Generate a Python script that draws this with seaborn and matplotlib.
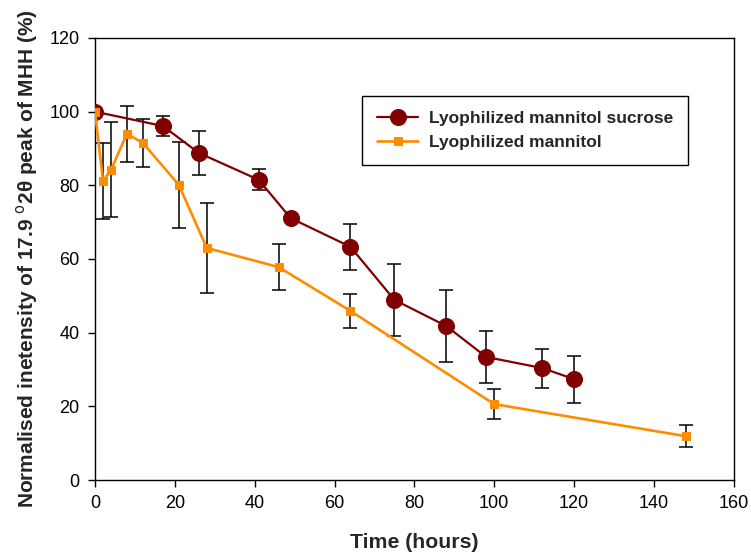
import matplotlib
matplotlib.use("Agg")
import matplotlib.pyplot as plt
import seaborn as sns
import pandas as pd

# Data
time_suc = [0, 17, 26, 41, 49, 64, 75, 88, 98, 112, 120]
val_suc = [100, 96.1, 88.8, 81.5, 71.1, 63.3, 48.9, 41.8, 33.4, 30.4, 27.4]
err_suc = [0, 2.6, 5.9, 2.8, 0, 6.3, 9.7, 9.8, 7.1, 5.3, 6.4]

time_man = [0, 2, 4, 8, 12, 21, 28, 46, 64, 100, 148]
val_man = [100, 81.2, 84.2, 94.0, 91.5, 80.1, 63.0, 57.8, 45.9, 20.6, 11.9]
err_man = [0, 10.3, 12.9, 7.6, 6.5, 11.7, 12.1, 6.2, 4.5, 4.1, 2.95]

label_suc = "Lyophilized mannitol sucrose"
label_man = "Lyophilized mannitol"

x_ticks = [0, 20, 40, 60, 80, 100, 120, 140, 160]
y_ticks = [0, 20, 40, 60, 80, 100, 120]

sns.set_style("ticks")
plt.rcParams['font.family'] = ['Liberation Sans', 'DejaVu Sans']

df_suc = pd.DataFrame({"t": time_suc, "v": val_suc})
df_man = pd.DataFrame({"t": time_man, "v": val_man})

fig = plt.figure(figsize=(7.51, 5.52), dpi=100)
ax = fig.add_axes([0.1265, 0.1304, 0.8505, 0.8008])

c_suc = "#800000"
c_man = "#FF8C00"

ax.errorbar(time_suc, val_suc, yerr=err_suc, fmt="none", ecolor="black",
            elinewidth=1.1, capsize=5, capthick=1.1, zorder=2)
ax.errorbar(time_man, val_man, yerr=err_man, fmt="none", ecolor="black",
            elinewidth=1.1, capsize=5, capthick=1.1, zorder=2)

sns.lineplot(data=df_suc, x="t", y="v", ax=ax, color=c_suc, marker="o",
             markersize=11.5, markeredgecolor=c_suc, markerfacecolor=c_suc,
             linewidth=1.6, label=label_suc, zorder=3)
sns.lineplot(data=df_man, x="t", y="v", ax=ax, color=c_man, marker="s",
             markersize=5.5, markeredgecolor=c_man, markerfacecolor=c_man,
             linewidth=1.9, label=label_man, zorder=4)

ax.set_xlim(0, 160)
ax.set_ylim(0, 120)
ax.set_xticks(x_ticks)
ax.set_yticks(y_ticks)
ax.tick_params(axis="both", direction="out", length=5, width=1, labelsize=13,
               color="black", labelcolor="black", pad=6)
for s in ax.spines.values():
    s.set_visible(True)
    s.set_color("black")
    s.set_linewidth(1)

ax.set_xlabel("Time (hours)", fontsize=15.3, fontweight="bold", labelpad=15)
ax.set_ylabel("Normalised inetensity of 17.9 $^{\\mathrm{o}}$2θ peak of MHH (%)",
              fontsize=15, fontweight="bold", labelpad=7)

leg = ax.legend(loc="upper left", bbox_to_anchor=(0.418, 0.869), frameon=True,
                fancybox=False, edgecolor="black", framealpha=1,
                prop={"weight": "bold", "size": 12.5}, borderpad=0.85,
                borderaxespad=0, handlelength=2.4, handletextpad=0.6,
                labelspacing=0.55)
leg.get_frame().set_linewidth(1)

fig.savefig("out.png", dpi=100)
